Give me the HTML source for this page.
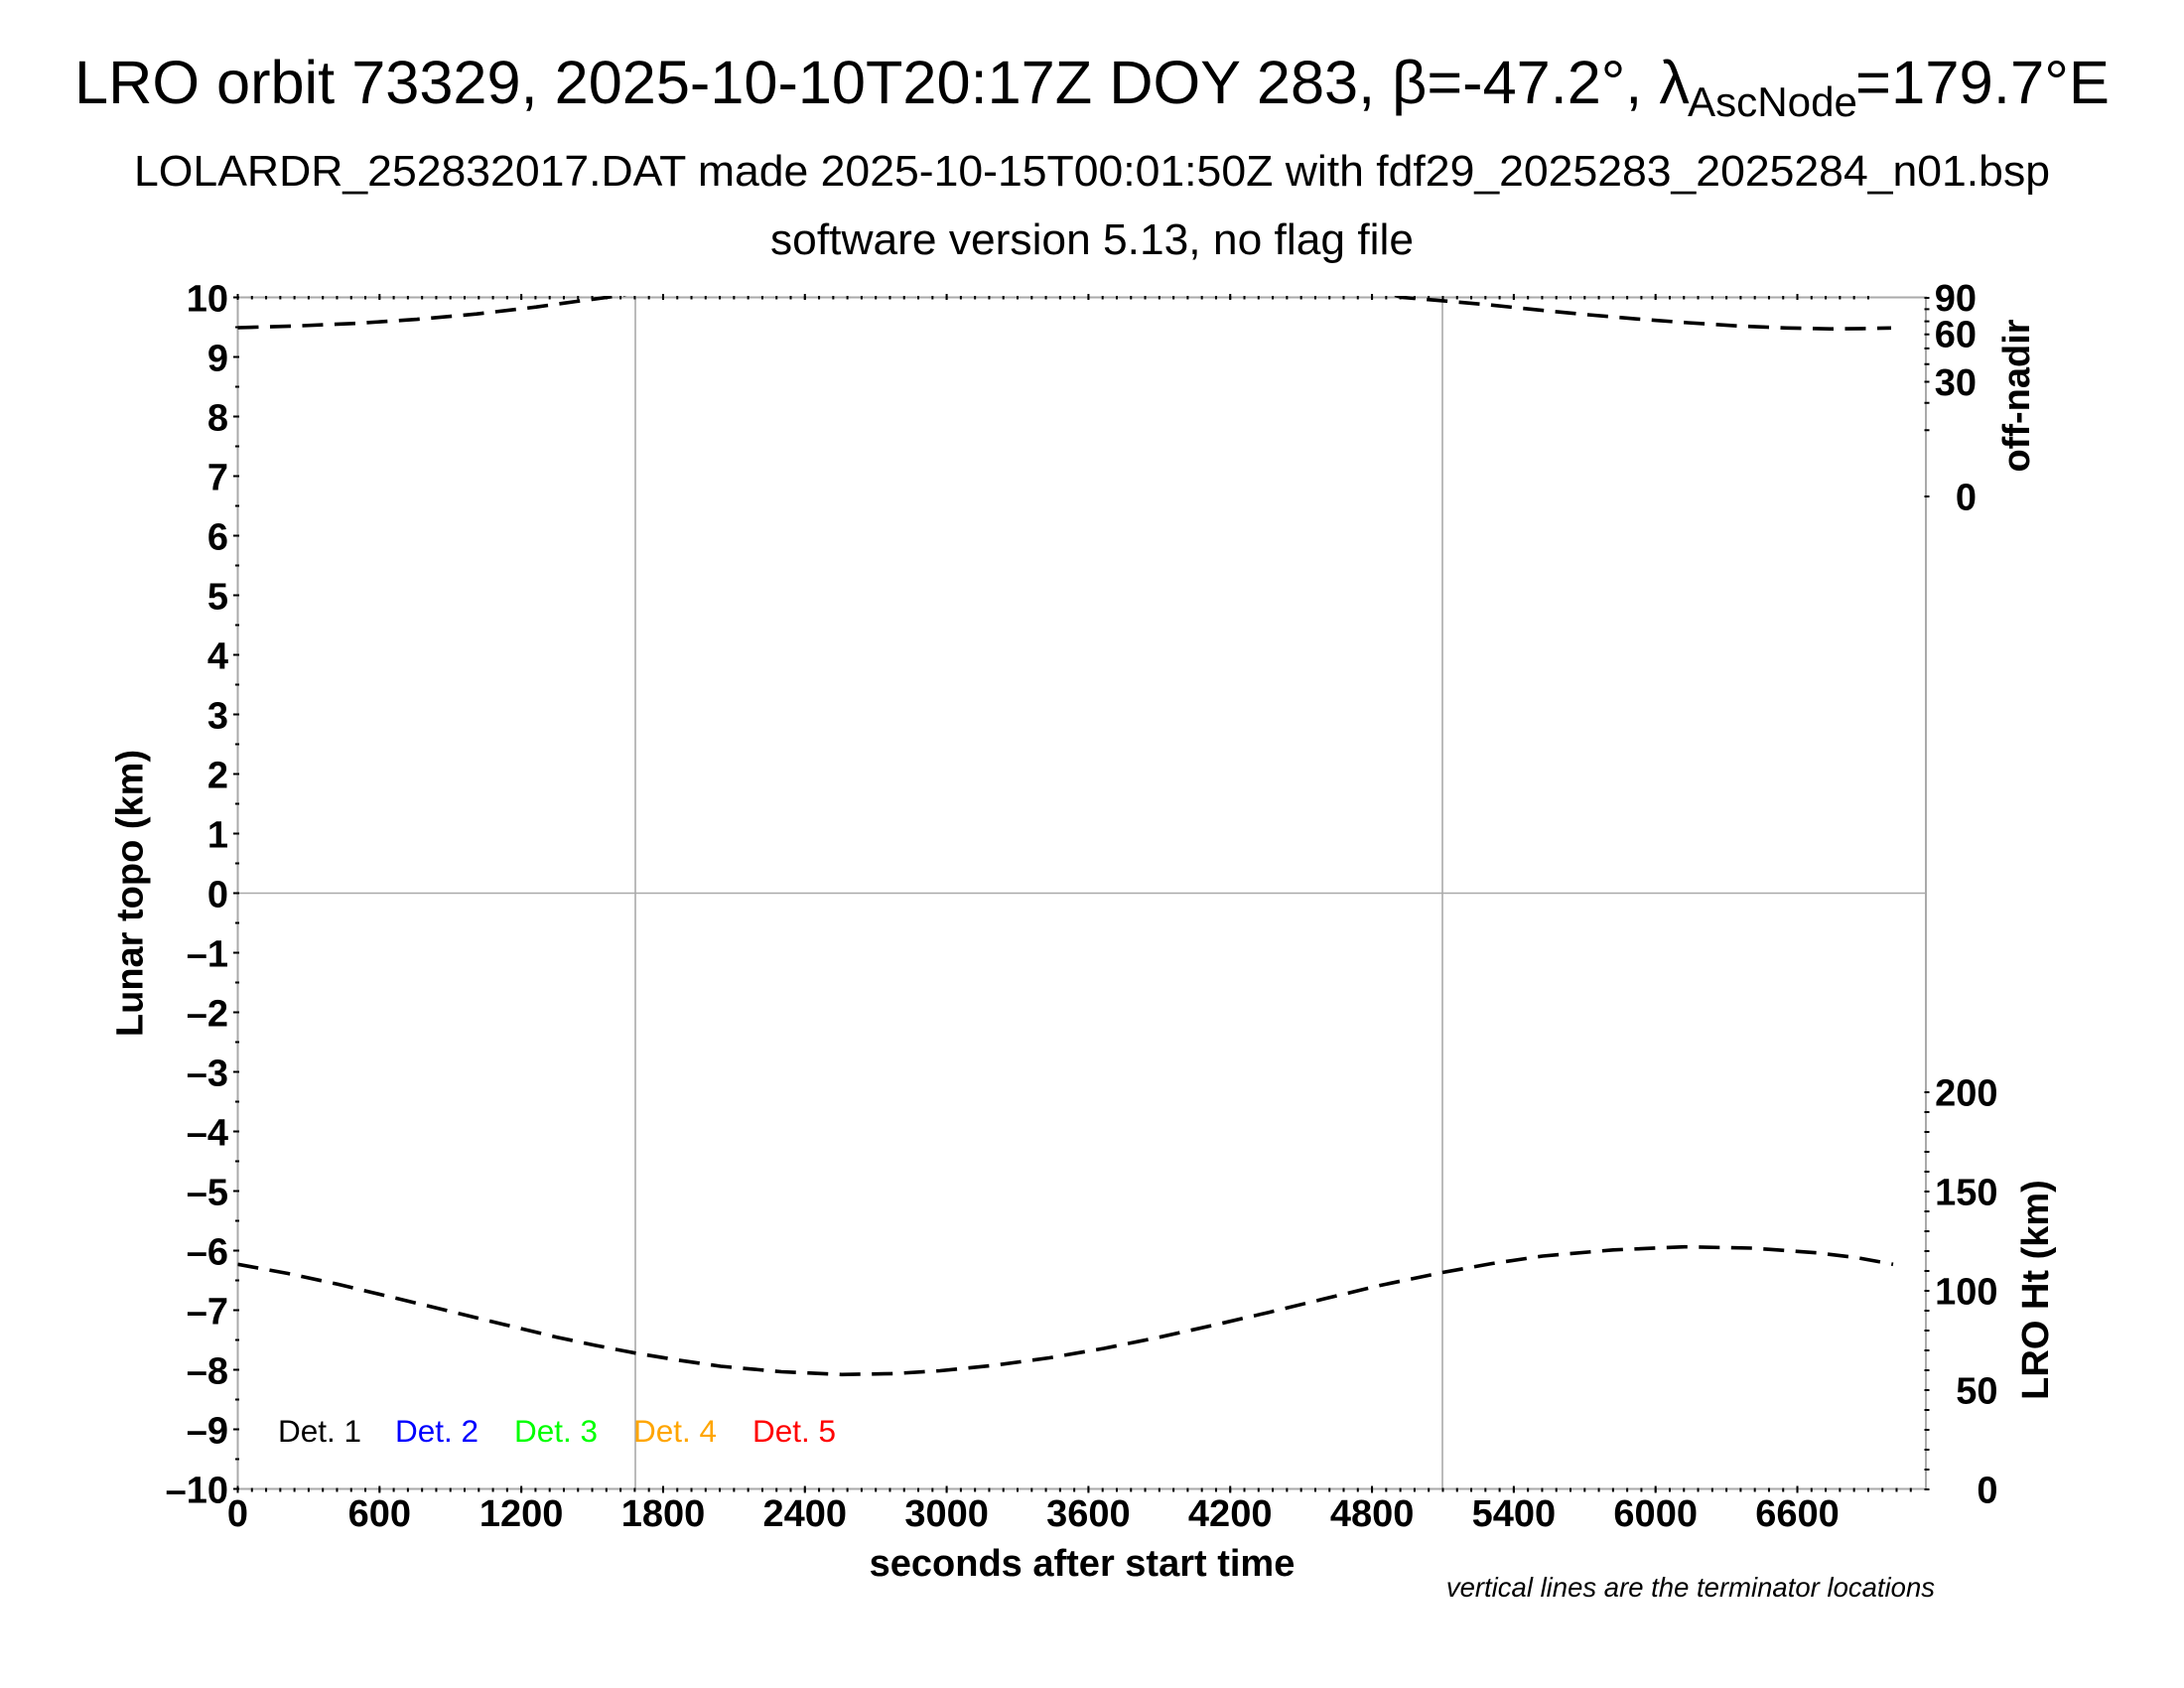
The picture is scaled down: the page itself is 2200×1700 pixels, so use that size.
<!DOCTYPE html>
<html>
<head>
<meta charset="utf-8">
<style>
html,body{margin:0;padding:0;background:#fff;}
svg{display:block;}
text{font-family:"Liberation Sans",Arial,sans-serif;fill:#000;}
.b{font-weight:bold;font-size:38px;}
</style>
</head>
<body>
<svg width="2200" height="1700" viewBox="0 0 2200 1700" xmlns="http://www.w3.org/2000/svg">
<rect x="0" y="0" width="2200" height="1700" fill="#fff"/>

<!-- Titles -->
<text x="75" y="104" font-size="61" textLength="1627" lengthAdjust="spacingAndGlyphs">LRO orbit 73329, 2025-10-10T20:17Z DOY 283, β=-47.2°, λ</text>
<text x="1700" y="117" font-size="42" textLength="171" lengthAdjust="spacingAndGlyphs">AscNode</text>
<text x="1869" y="104" font-size="61" textLength="256" lengthAdjust="spacingAndGlyphs">=179.7°E</text>
<text x="1100" y="187" font-size="43.5" text-anchor="middle" textLength="1930" lengthAdjust="spacingAndGlyphs">LOLARDR_252832017.DAT made 2025-10-15T00:01:50Z with fdf29_2025283_2025284_n01.bsp</text>
<text x="1100" y="256" font-size="44" text-anchor="middle" textLength="648" lengthAdjust="spacingAndGlyphs">software version 5.13, no flag file</text>

<!-- grid / axes -->
<g stroke="#aaaaaa" fill="none">
<line x1="239.5" y1="899.5" x2="1940" y2="899.5" stroke-width="1.6"/>
<line x1="640" y1="299.5" x2="640" y2="1499.5" stroke-width="1.6"/>
<line x1="1453" y1="299.5" x2="1453" y2="1499.5" stroke-width="1.6"/>
<rect x="239.5" y="299.5" width="1700.5" height="1200" stroke-width="2"/>
</g>

<defs>
<clipPath id="pc"><rect x="239.5" y="298" width="1700.5" height="1202"/></clipPath>
<clipPath id="xc"><rect x="230" y="280" width="1711.5" height="1240"/></clipPath>
</defs>

<!-- ticks -->
<g stroke="#000" stroke-width="2" fill="none">
<g clip-path="url(#xc)">
<path d="M239.5 1498.5v4m14.282-4v4m14.282-4v4m14.282-4v4m14.282-4v4m14.282-4v4m14.282-4v4m14.282-4v4m14.282-4v4m14.282-4v4m14.282-4v4m14.282-4v4m14.282-4v4m14.282-4v4m14.282-4v4m14.282-4v4m14.282-4v4m14.282-4v4m14.282-4v4m14.282-4v4m14.282-4v4m14.282-4v4m14.282-4v4m14.282-4v4m14.282-4v4m14.282-4v4m14.282-4v4m14.282-4v4m14.282-4v4m14.282-4v4m14.282-4v4m14.282-4v4m14.282-4v4m14.282-4v4m14.282-4v4m14.282-4v4m14.282-4v4m14.282-4v4m14.282-4v4m14.282-4v4m14.282-4v4m14.282-4v4m14.282-4v4m14.282-4v4m14.282-4v4m14.282-4v4m14.282-4v4m14.282-4v4m14.282-4v4m14.282-4v4m14.282-4v4m14.282-4v4m14.282-4v4m14.282-4v4m14.282-4v4m14.282-4v4m14.282-4v4m14.282-4v4m14.282-4v4m14.282-4v4m14.282-4v4m14.282-4v4m14.282-4v4m14.282-4v4m14.282-4v4m14.282-4v4m14.282-4v4m14.282-4v4m14.282-4v4m14.282-4v4m14.282-4v4m14.282-4v4m14.282-4v4m14.282-4v4m14.282-4v4m14.282-4v4m14.282-4v4m14.282-4v4m14.282-4v4m14.282-4v4m14.282-4v4m14.282-4v4m14.282-4v4m14.282-4v4m14.282-4v4m14.282-4v4m14.282-4v4m14.282-4v4m14.282-4v4m14.282-4v4m14.282-4v4m14.282-4v4m14.282-4v4m14.282-4v4m14.282-4v4m14.282-4v4m14.282-4v4m14.282-4v4m14.282-4v4m14.282-4v4m14.282-4v4m14.282-4v4m14.282-4v4m14.282-4v4m14.282-4v4m14.282-4v4m14.282-4v4m14.282-4v4m14.282-4v4m14.282-4v4m14.282-4v4m14.282-4v4m14.282-4v4m14.282-4v4m14.282-4v4m14.282-4v4m14.282-4v4m14.282-4v4m14.282-4v4"/>
<path d="M239.5 298v3.5m14.282-3.5v3.5m14.282-3.5v3.5m14.282-3.5v3.5m14.282-3.5v3.5m14.282-3.5v3.5m14.282-3.5v3.5m14.282-3.5v3.5m14.282-3.5v3.5m14.282-3.5v3.5m14.282-3.5v3.5m14.282-3.5v3.5m14.282-3.5v3.5m14.282-3.5v3.5m14.282-3.5v3.5m14.282-3.5v3.5m14.282-3.5v3.5m14.282-3.5v3.5m14.282-3.5v3.5m14.282-3.5v3.5m14.282-3.5v3.5m14.282-3.5v3.5m14.282-3.5v3.5m14.282-3.5v3.5m14.282-3.5v3.5m14.282-3.5v3.5m14.282-3.5v3.5m14.282-3.5v3.5m14.282-3.5v3.5m14.282-3.5v3.5m14.282-3.5v3.5m14.282-3.5v3.5m14.282-3.5v3.5m14.282-3.5v3.5m14.282-3.5v3.5m14.282-3.5v3.5m14.282-3.5v3.5m14.282-3.5v3.5m14.282-3.5v3.5m14.282-3.5v3.5m14.282-3.5v3.5m14.282-3.5v3.5m14.282-3.5v3.5m14.282-3.5v3.5m14.282-3.5v3.5m14.282-3.5v3.5m14.282-3.5v3.5m14.282-3.5v3.5m14.282-3.5v3.5m14.282-3.5v3.5m14.282-3.5v3.5m14.282-3.5v3.5m14.282-3.5v3.5m14.282-3.5v3.5m14.282-3.5v3.5m14.282-3.5v3.5m14.282-3.5v3.5m14.282-3.5v3.5m14.282-3.5v3.5m14.282-3.5v3.5m14.282-3.5v3.5m14.282-3.5v3.5m14.282-3.5v3.5m14.282-3.5v3.5m14.282-3.5v3.5m14.282-3.5v3.5m14.282-3.5v3.5m14.282-3.5v3.5m14.282-3.5v3.5m14.282-3.5v3.5m14.282-3.5v3.5m14.282-3.5v3.5m14.282-3.5v3.5m14.282-3.5v3.5m14.282-3.5v3.5m14.282-3.5v3.5m14.282-3.5v3.5m14.282-3.5v3.5m14.282-3.5v3.5m14.282-3.5v3.5m14.282-3.5v3.5m14.282-3.5v3.5m14.282-3.5v3.5m14.282-3.5v3.5m14.282-3.5v3.5m14.282-3.5v3.5m14.282-3.5v3.5m14.282-3.5v3.5m14.282-3.5v3.5m14.282-3.5v3.5m14.282-3.5v3.5m14.282-3.5v3.5m14.282-3.5v3.5m14.282-3.5v3.5m14.282-3.5v3.5m14.282-3.5v3.5m14.282-3.5v3.5m14.282-3.5v3.5m14.282-3.5v3.5m14.282-3.5v3.5m14.282-3.5v3.5m14.282-3.5v3.5m14.282-3.5v3.5m14.282-3.5v3.5m14.282-3.5v3.5m14.282-3.5v3.5m14.282-3.5v3.5m14.282-3.5v3.5m14.282-3.5v3.5m14.282-3.5v3.5m14.282-3.5v3.5m14.282-3.5v3.5m14.282-3.5v3.5m14.282-3.5v3.5m14.282-3.5v3.5m14.282-3.5v3.5"/>
<path d="M239.5 1496.5v7m142.82-7v7m142.82-7v7m142.82-7v7m142.82-7v7m142.82-7v7m142.82-7v7m142.82-7v7m142.82-7v7m142.82-7v7m142.82-7v7m142.82-7v7"/>
<path d="M239.5 296v6m142.82-6v6m142.82-6v6m142.82-6v6m142.82-6v6m142.82-6v6m142.82-6v6m142.82-6v6m142.82-6v6m142.82-6v6m142.82-6v6m142.82-6v6"/>
</g>
<path d="M237 299.5h4m-4 30h4m-4 30h4m-4 30h4m-4 30h4m-4 30h4m-4 30h4m-4 30h4m-4 30h4m-4 30h4m-4 30h4m-4 30h4m-4 30h4m-4 30h4m-4 30h4m-4 30h4m-4 30h4m-4 30h4m-4 30h4m-4 30h4m-4 30h4m-4 30h4m-4 30h4m-4 30h4m-4 30h4m-4 30h4m-4 30h4m-4 30h4m-4 30h4m-4 30h4m-4 30h4m-4 30h4m-4 30h4m-4 30h4m-4 30h4m-4 30h4m-4 30h4m-4 30h4m-4 30h4m-4 30h4m-4 30h4"/>
<path d="M235 299.5h6m-6 60h6m-6 60h6m-6 60h6m-6 60h6m-6 60h6m-6 60h6m-6 60h6m-6 60h6m-6 60h6m-6 60h6m-6 60h6m-6 60h6m-6 60h6m-6 60h6m-6 60h6m-6 60h6m-6 60h6m-6 60h6m-6 60h6m-6 60h6"/>
<path d="M1938.5 1100h5m-5 20h5m-5 20h5m-5 20h5m-5 20h5m-5 20h5m-5 20h5m-5 20h5m-5 20h5m-5 20h5m-5 20h5m-5 20h5m-5 20h5m-5 20h5m-5 20h5m-5 20h5m-5 20h5m-5 20h5m-5 20h5m-5 20h5m-5 20h5"/>
<path d="M1938.5 300h5M1938.5 311.4h5M1938.5 323.6h5M1938.5 336.7h5M1938.5 350.9h5M1938.5 366.7h5M1938.5 384.5h5M1938.5 405.7h5M1938.5 433.3h5M1938.5 500h5"/>
</g>

<!-- curves -->
<g clip-path="url(#pc)" fill="none" stroke="#000" stroke-width="3.6" stroke-dasharray="21 11.5" stroke-linejoin="round">
<path d="M239.5 330L300 328.2L360 325.6L420 321.6L480 316.2L540 309.2L580 303.6L615 299L650 293L1000 270L1380 290L1412 299.5L1452 302.8L1500 307L1550 312.2L1600 317L1650 321.3L1700 325L1750 328.2L1800 330.3L1843 331.2L1876 330.9L1905 330.3"/>
<path d="M239.5 1273.3L290 1282.5L340 1293.3L395 1306.5L451 1320L506 1333.5L561 1346.7L600 1355L640 1362.7L683 1369.8L726 1376L787 1381.5L848 1384.3L900 1383.4L947 1380.5L1002 1375L1057 1367.5L1112 1358L1168 1346.7L1223 1334.5L1278 1321.7L1333 1308.3L1388 1295L1452 1281.7L1503 1272.5L1554 1265L1625 1258.8L1697 1255.7L1765 1257L1830 1261.7L1870 1266.5L1907 1273.3"/>
</g>

<!-- left tick labels -->
<g text-anchor="end">
<text class="b" x="230" y="313.5">10</text>
<text class="b" x="230" y="373.5">9</text>
<text class="b" x="230" y="433.5">8</text>
<text class="b" x="230" y="493.5">7</text>
<text class="b" x="230" y="553.5">6</text>
<text class="b" x="230" y="613.5">5</text>
<text class="b" x="230" y="673.5">4</text>
<text class="b" x="230" y="733.5">3</text>
<text class="b" x="230" y="793.5">2</text>
<text class="b" x="230" y="853.5">1</text>
<text class="b" x="230" y="913.5">0</text>
<text class="b" x="230" y="973.5">–1</text>
<text class="b" x="230" y="1033.5">–2</text>
<text class="b" x="230" y="1093.5">–3</text>
<text class="b" x="230" y="1153.5">–4</text>
<text class="b" x="230" y="1213.5">–5</text>
<text class="b" x="230" y="1273.5">–6</text>
<text class="b" x="230" y="1333.5">–7</text>
<text class="b" x="230" y="1393.5">–8</text>
<text class="b" x="230" y="1453.5">–9</text>
<text class="b" x="230" y="1513.5">–10</text>
</g>

<!-- bottom tick labels -->
<g text-anchor="middle">
<text class="b" x="239.5" y="1537">0</text>
<text class="b" x="382.3" y="1537">600</text>
<text class="b" x="525.1" y="1537">1200</text>
<text class="b" x="668" y="1537">1800</text>
<text class="b" x="810.8" y="1537">2400</text>
<text class="b" x="953.6" y="1537">3000</text>
<text class="b" x="1096.4" y="1537">3600</text>
<text class="b" x="1239.2" y="1537">4200</text>
<text class="b" x="1382.1" y="1537">4800</text>
<text class="b" x="1524.9" y="1537">5400</text>
<text class="b" x="1667.7" y="1537">6000</text>
<text class="b" x="1810.5" y="1537">6600</text>
</g>

<!-- right labels -->
<g text-anchor="end">
<text class="b" x="1991" y="313">90</text>
<text class="b" x="1991" y="349.5">60</text>
<text class="b" x="1991" y="398">30</text>
<text class="b" x="1991" y="513.5">0</text>
<text class="b" x="2012.5" y="1113.5">200</text>
<text class="b" x="2012.5" y="1213.5">150</text>
<text class="b" x="2012.5" y="1313.5">100</text>
<text class="b" x="2012.5" y="1413.5">50</text>
<text class="b" x="2012.5" y="1513.5">0</text>
</g>

<!-- axis titles -->
<text class="b" text-anchor="middle" transform="translate(143.5,899.5) rotate(-90)">Lunar topo (km)</text>
<text class="b" text-anchor="middle" transform="translate(2044,398.5) rotate(-90)">off-nadir</text>
<text class="b" text-anchor="middle" transform="translate(2063,1299) rotate(-90)">LRO Ht (km)</text>
<text class="b" x="1090" y="1587" text-anchor="middle">seconds after start time</text>
<text x="1949" y="1608" text-anchor="end" font-size="27.5" font-style="italic">vertical lines are the terminator locations</text>

<!-- legend -->
<g font-size="31.5">
<text x="280" y="1452" style="fill:#000">Det. 1</text>
<text x="398" y="1452" style="fill:#0000ff">Det. 2</text>
<text x="518" y="1452" style="fill:#00ff00">Det. 3</text>
<text x="638" y="1452" style="fill:#ffa500">Det. 4</text>
<text x="758" y="1452" style="fill:#ff0000">Det. 5</text>
</g>
</svg>
</body>
</html>
